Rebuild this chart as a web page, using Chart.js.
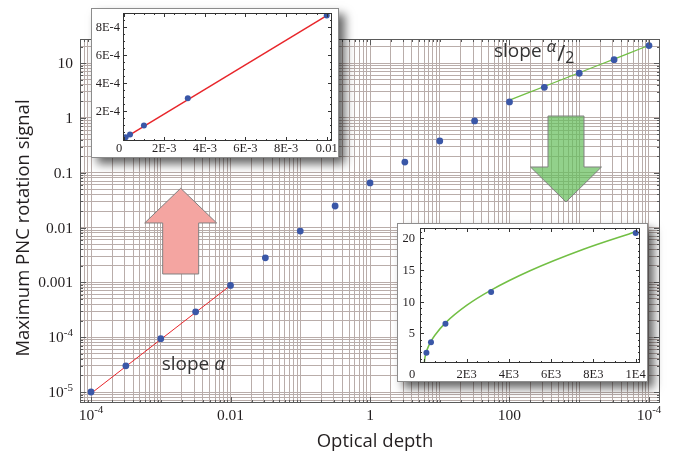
<!DOCTYPE html>
<html>
<head>
<meta charset="utf-8">
<script src="https://cdn.jsdelivr.net/npm/chart.js@4.4.1/dist/chart.umd.min.js"></script>
<style>
  body { margin: 0; background: #fff; }
  #wrap { position: relative; width: 676px; height: 457px; overflow: hidden; }
  #main { position: absolute; left: 0; top: 0; }
  .inset { position: absolute; background: #fff; border: 1px solid #8c8c8c; box-shadow: 6px 6px 9px rgba(0,0,0,0.6); }
  .inset canvas { display: block; }
  #box1 { left: 91px; top: 8px; width: 246px; height: 148px; }
  #box2 { left: 397px; top: 223px; width: 249px; height: 157px; }
</style>
</head>
<body>
<div id="wrap">
  <canvas id="main" width="676" height="457"></canvas>
  <div class="inset" id="box1"><canvas id="inset1" width="246" height="148"></canvas></div>
  <div class="inset" id="box2"><canvas id="inset2" width="249" height="157"></canvas></div>
</div>
<script>
// ---- data ----
const opticalDepth = [1e-4, 3.16e-4, 1e-3, 3.16e-3, 1e-2, 3.16e-2, 0.1, 0.316, 1, 3.16, 10, 31.6, 100, 316, 1000, 3160, 1e4];
const pncSignal = [1.0e-5, 3.0e-5, 9.4e-5, 2.9e-4, 8.8e-4, 2.8e-3, 8.6e-3, 0.0247, 0.065, 0.156, 0.38, 0.88, 1.95, 3.6, 6.5, 11.5, 20.8];

// fitted lines (slope a, slope a/2)
const slopeFitX = [1e-4, 1e-2];
const slopeFitY = [9.4e-6, 8.8e-4];
const halfFitX = [5, 20, 50, 100, 200, 316, 500, 1000, 2000, 3160, 5000, 7500, 10000];
const halfFitY = [0.47, 0.94, 1.49, 2.1, 2.97, 3.73, 4.7, 6.64, 9.39, 11.8, 14.85, 18.2, 21.0];

// tick labels
const mainXTicks = [1e-4, 1e-2, 1, 100, 1e4];
const mainXLabels = ['10^-4', '0.01', '1', '100', '10^-4'];
const mainYTicks = [1e-5, 1e-4, 1e-3, 1e-2, 0.1, 1, 10];
const mainYLabels = ['10^-5', '10^-4', '0.001', '0.01', '0.1', '1', '10'];
const in1XTicks = [0, 2e-3, 4e-3, 6e-3, 8e-3, 1e-2];
const in1XLabels = ['0', '2E-3', '4E-3', '6E-3', '8E-3', '0.01'];
const in1YTicks = [2e-4, 4e-4, 6e-4, 8e-4];
const in1YLabels = ['2E-4', '4E-4', '6E-4', '8E-4'];
const in2XTicks = [0, 2000, 4000, 6000, 8000, 10000];
const in2XLabels = ['0', '2E3', '4E3', '6E3', '8E3', '1E4'];
const in2YTicks = [5, 10, 15, 20];
const in2YLabels = ['5', '10', '15', '20'];

const BLUE = '#3a57a7', RED = '#e8262b', GREEN = '#72bf44', INK = '#231f20';
const SERIF = '"Liberation Serif", "Times New Roman", "DejaVu Serif", serif';
const pts = (xs, ys) => xs.map((x, i) => ({x, y: ys[i]}));

// all 1..9 x 10^k values inside a range, for log grid lines
function logGrid(min, max) {
  const out = [];
  for (let k = Math.floor(Math.log10(min)); k <= Math.ceil(Math.log10(max)); k++)
    for (let m = 1; m <= 9; m++) {
      const v = m * Math.pow(10, k);
      if (v >= min && v <= max) out.push(v);
    }
  return out;
}
function steps(a, b, s) { const o = []; for (let v = a; v <= b + s * 1e-6; v += s) o.push(v); return o; }

function drawTickText(ctx, s, x, y, align, size) {
  const [base, sup] = s.split('^');
  const supSize = Math.round(size * 0.68);
  ctx.font = size + 'px ' + SERIF;
  const wb = ctx.measureText(base).width;
  let ws = 0;
  if (sup) { ctx.font = supSize + 'px ' + SERIF; ws = ctx.measureText(sup).width; }
  const w = wb + ws;
  const x0 = align === 'right' ? x - w : align === 'center' ? x - w / 2 : x;
  ctx.textAlign = 'left';
  ctx.textBaseline = 'alphabetic';
  ctx.font = size + 'px ' + SERIF;
  ctx.fillText(base, x0, y);
  if (sup) { ctx.font = supSize + 'px ' + SERIF; ctx.fillText(sup, x0 + wb, y - size * 0.42); }
}

// per-canvas decoration settings
const decorCfg = {};

const decor = {
  id: 'decor',
  beforeDatasetsDraw(chart) {
    const c = decorCfg[chart.canvas.id];
    if (!c || !c.arrows) return;
    const {ctx, scales: {x, y}} = chart;
    c.arrows.forEach(a => {
      const cx = x.getPixelForValue(a.x);
      const tip = y.getPixelForValue(a.tip), base = y.getPixelForValue(a.base), tail = y.getPixelForValue(a.tail);
      ctx.save();
      ctx.beginPath();
      ctx.moveTo(cx, tip);
      ctx.lineTo(cx + a.head, base);
      ctx.lineTo(cx + a.shaft, base);
      ctx.lineTo(cx + a.shaft, tail);
      ctx.lineTo(cx - a.shaft, tail);
      ctx.lineTo(cx - a.shaft, base);
      ctx.lineTo(cx - a.head, base);
      ctx.closePath();
      ctx.fillStyle = a.fill;
      ctx.fill();
      ctx.strokeStyle = '#808080';
      ctx.lineWidth = 1;
      ctx.stroke();
      ctx.restore();
    });
  },
  afterDraw(chart) {
    const c = decorCfg[chart.canvas.id];
    if (!c) return;
    const {ctx, chartArea: a, scales: {x, y}} = chart;
    ctx.save();
    // frame
    ctx.strokeStyle = c.frame;
    ctx.lineWidth = 1;
    ctx.strokeRect(a.left + 0.5, a.top + 0.5, a.width - 1, a.height - 1);
    // inward ticks on all sides
    const tick = (vals, len, horiz) => vals.forEach(v => {
      if (horiz) {
        const px = Math.round(x.getPixelForValue(v)) + 0.5;
        if (px < a.left || px > a.right) return;
        ctx.beginPath();
        ctx.moveTo(px, a.bottom); ctx.lineTo(px, a.bottom - len);
        ctx.moveTo(px, a.top); ctx.lineTo(px, a.top + len);
        ctx.stroke();
      } else {
        const py = Math.round(y.getPixelForValue(v)) + 0.5;
        if (py < a.top || py > a.bottom) return;
        ctx.beginPath();
        ctx.moveTo(a.left, py); ctx.lineTo(a.left + len, py);
        ctx.moveTo(a.right, py); ctx.lineTo(a.right - len, py);
        ctx.stroke();
      }
    });
    tick(c.xMinor, c.minorLen, true);
    tick(c.xMajor, c.majorLen, true);
    tick(c.yMinor, c.minorLen, false);
    tick(c.yMajor, c.majorLen, false);
    // tick labels
    ctx.fillStyle = INK;
    if (c.clipRight) { ctx.beginPath(); ctx.rect(0, 0, c.clipRight, chart.height); ctx.clip(); }
    c.xTicks.forEach((v, i) => {
      let px = x.getPixelForValue(v);
      if (v === 0 && c.zeroShift) px = a.left - c.zeroShift;
      drawTickText(ctx, c.xLabels[i], px, a.bottom + c.xOff, 'center', c.size);
    });
    c.yTicks.forEach((v, i) => {
      drawTickText(ctx, c.yLabels[i], a.left - c.yOff, y.getPixelForValue(v) + c.size * 0.33, 'right', c.size);
    });
    ctx.restore();
    if (c.extra) c.extra(chart);
  }
};

// ---- main log-log chart ----
const mainX = {min: Math.pow(10, -4.158), max: Math.pow(10, 4.158)};
const mainY = {min: Math.pow(10, -5.2006), max: Math.pow(10, 1.438)};

decorCfg.main = {
  frame: '#5a5a5a', majorLen: 6, minorLen: 3,
  xMajor: mainXTicks, xMinor: logGrid(mainX.min, mainX.max),
  yMajor: mainYTicks, yMinor: logGrid(mainY.min, mainY.max),
  xTicks: mainXTicks, xLabels: mainXLabels, xOff: 17,
  yTicks: mainYTicks, yLabels: mainYLabels, yOff: 7,
  size: 15.5, clipRight: 668,
  arrows: [
    {x: 1.93e-3, tip: 0.0519, base: 0.0121, tail: 1.42e-3, head: 36, shaft: 18, fill: '#f4a5a1'},
    {x: 646, tip: 0.0292, base: 0.127, tail: 1.08, head: 35.5, shaft: 18, fill: 'rgba(100,190,90,0.7)'}
  ],
  extra(chart) {
    const {ctx, scales: {x, y}} = chart;
    ctx.save();
    ctx.fillStyle = '#333';
    ctx.textBaseline = 'alphabetic';
    ctx.textAlign = 'left';
    // slope a
    let px = x.getPixelForValue(1.03e-3), py = y.getPixelForValue(2.52e-5);
    ctx.font = '19px "Open Sans"';
    ctx.fillText('slope ', px, py);
    let w = ctx.measureText('slope ').width;
    ctx.font = 'italic 19px "Open Sans"';
    ctx.fillText('α', px + w, py);
    // slope a/2
    px = x.getPixelForValue(60); py = y.getPixelForValue(13.0);
    ctx.font = '19px "Open Sans"';
    ctx.fillText('slope', px, py);
    w = ctx.measureText('slope').width;
    ctx.font = 'italic 17px "Open Sans"';
    ctx.fillText('α', px + w + 5, py - 5);
    const wa = ctx.measureText('α').width;
    ctx.font = '22px "Open Sans"';
    ctx.fillText('/', px + w + 6 + wa, py + 4);
    const ws = ctx.measureText('/').width;
    ctx.font = '16px "Open Sans"';
    ctx.fillText('2', px + w + 6 + wa + ws, py + 6);
    // axis titles
    ctx.fillStyle = INK;
    ctx.font = '18.5px "Open Sans"';
    ctx.textAlign = 'center';
    ctx.fillText('Optical depth', 375, 447);
    ctx.translate(29, 228);
    ctx.rotate(-Math.PI / 2);
    ctx.fillText('Maximum PNC rotation signal', 0, 0);
    ctx.restore();
  }
};

const zeroAxis = (min, max, horiz, extra) => Object.assign({
  min, max, bounds: 'data',
  ticks: {display: false},
  border: {display: false},
  afterFit: s => { if (horiz) s.height = 0; else s.width = 0; }
}, extra);

new Chart(document.getElementById('main'), {
  type: 'scatter',
  data: {
    datasets: [
      {data: pts(opticalDepth, pncSignal), pointRadius: 3.4, pointBackgroundColor: BLUE, pointBorderWidth: 0, showLine: false},
      {data: pts(slopeFitX, slopeFitY), showLine: true, borderColor: RED, borderWidth: 1, pointRadius: 0},
      {data: pts(halfFitX, halfFitY).filter(p => p.x >= 100), showLine: true, borderColor: GREEN, borderWidth: 1.2, pointRadius: 0}
    ]
  },
  options: {
    responsive: false, animation: false, events: [],
    layout: {padding: {left: 80, top: 39, right: 16, bottom: 54}},
    plugins: {legend: {display: false}, tooltip: {enabled: false}},
    scales: {
      x: zeroAxis(mainX.min, mainX.max, true, {
        type: 'logarithmic',
        afterBuildTicks: s => { s.ticks = logGrid(mainX.min, mainX.max).map(v => ({value: v})); },
        grid: {color: '#b9adaa', lineWidth: 1, drawTicks: false}
      }),
      y: zeroAxis(mainY.min, mainY.max, false, {
        type: 'logarithmic',
        afterBuildTicks: s => { s.ticks = logGrid(mainY.min, mainY.max).map(v => ({value: v})); },
        grid: {color: '#b9adaa', lineWidth: 1, drawTicks: false}
      })
    }
  },
  plugins: [decor]
});

// ---- inset 1: linear view of the low end ----
decorCfg.inset1 = {
  frame: '#333', majorLen: 4, minorLen: 2,
  xMajor: in1XTicks, xMinor: steps(0, 0.01, 5e-4),
  yMajor: in1YTicks, yMinor: steps(0, 8.5e-4, 5e-5),
  xTicks: in1XTicks, xLabels: in1XLabels, xOff: 11, zeroShift: 4,
  yTicks: in1YTicks, yLabels: in1YLabels, yOff: 3,
  size: 12.5
};
new Chart(document.getElementById('inset1'), {
  type: 'scatter',
  data: {
    datasets: [
      {data: pts(opticalDepth, pncSignal).filter(p => p.x <= 0.01), pointRadius: 3, pointBackgroundColor: BLUE, pointBorderWidth: 0, showLine: false},
      {data: pts(slopeFitX, slopeFitY), showLine: true, borderColor: RED, borderWidth: 1.5, pointRadius: 0}
    ]
  },
  options: {
    responsive: false, animation: false, events: [],
    layout: {padding: {left: 31, top: 4, right: 6, bottom: 16}},
    plugins: {legend: {display: false}, tooltip: {enabled: false}},
    scales: {
      x: zeroAxis(-0.00003, 0.01026, true, {type: 'linear', grid: {display: false}}),
      y: zeroAxis(-1.6e-5, 8.98e-4, false, {type: 'linear', grid: {display: false}})
    }
  },
  plugins: [decor]
});

// ---- inset 2: linear view of the high end ----
decorCfg.inset2 = {
  frame: '#333', majorLen: 4, minorLen: 2,
  xMajor: in2XTicks, xMinor: steps(0, 10000, 500),
  yMajor: in2YTicks, yMinor: steps(1, 21, 1),
  xTicks: in2XTicks, xLabels: in2XLabels, xOff: 15, zeroShift: 8,
  yTicks: in2YTicks, yLabels: in2YLabels, yOff: 5,
  size: 12.5
};
new Chart(document.getElementById('inset2'), {
  type: 'scatter',
  data: {
    datasets: [
      {data: pts(opticalDepth, pncSignal).filter(p => p.x >= 100), pointRadius: 3, pointBackgroundColor: BLUE, pointBorderWidth: 0, showLine: false},
      {data: pts(halfFitX, halfFitY), showLine: true, borderColor: GREEN, borderWidth: 1.5, pointRadius: 0, cubicInterpolationMode: 'monotone'}
    ]
  },
  options: {
    responsive: false, animation: false, events: [],
    layout: {padding: {left: 22, top: 4, right: 7, bottom: 18}},
    plugins: {legend: {display: false}, tooltip: {enabled: false}},
    scales: {
      x: zeroAxis(-204, 10204, true, {type: 'linear', grid: {display: false}}),
      y: zeroAxis(0.32, 21.58, false, {type: 'linear', grid: {display: false}})
    }
  },
  plugins: [decor]
});
</script>
</body>
</html>
